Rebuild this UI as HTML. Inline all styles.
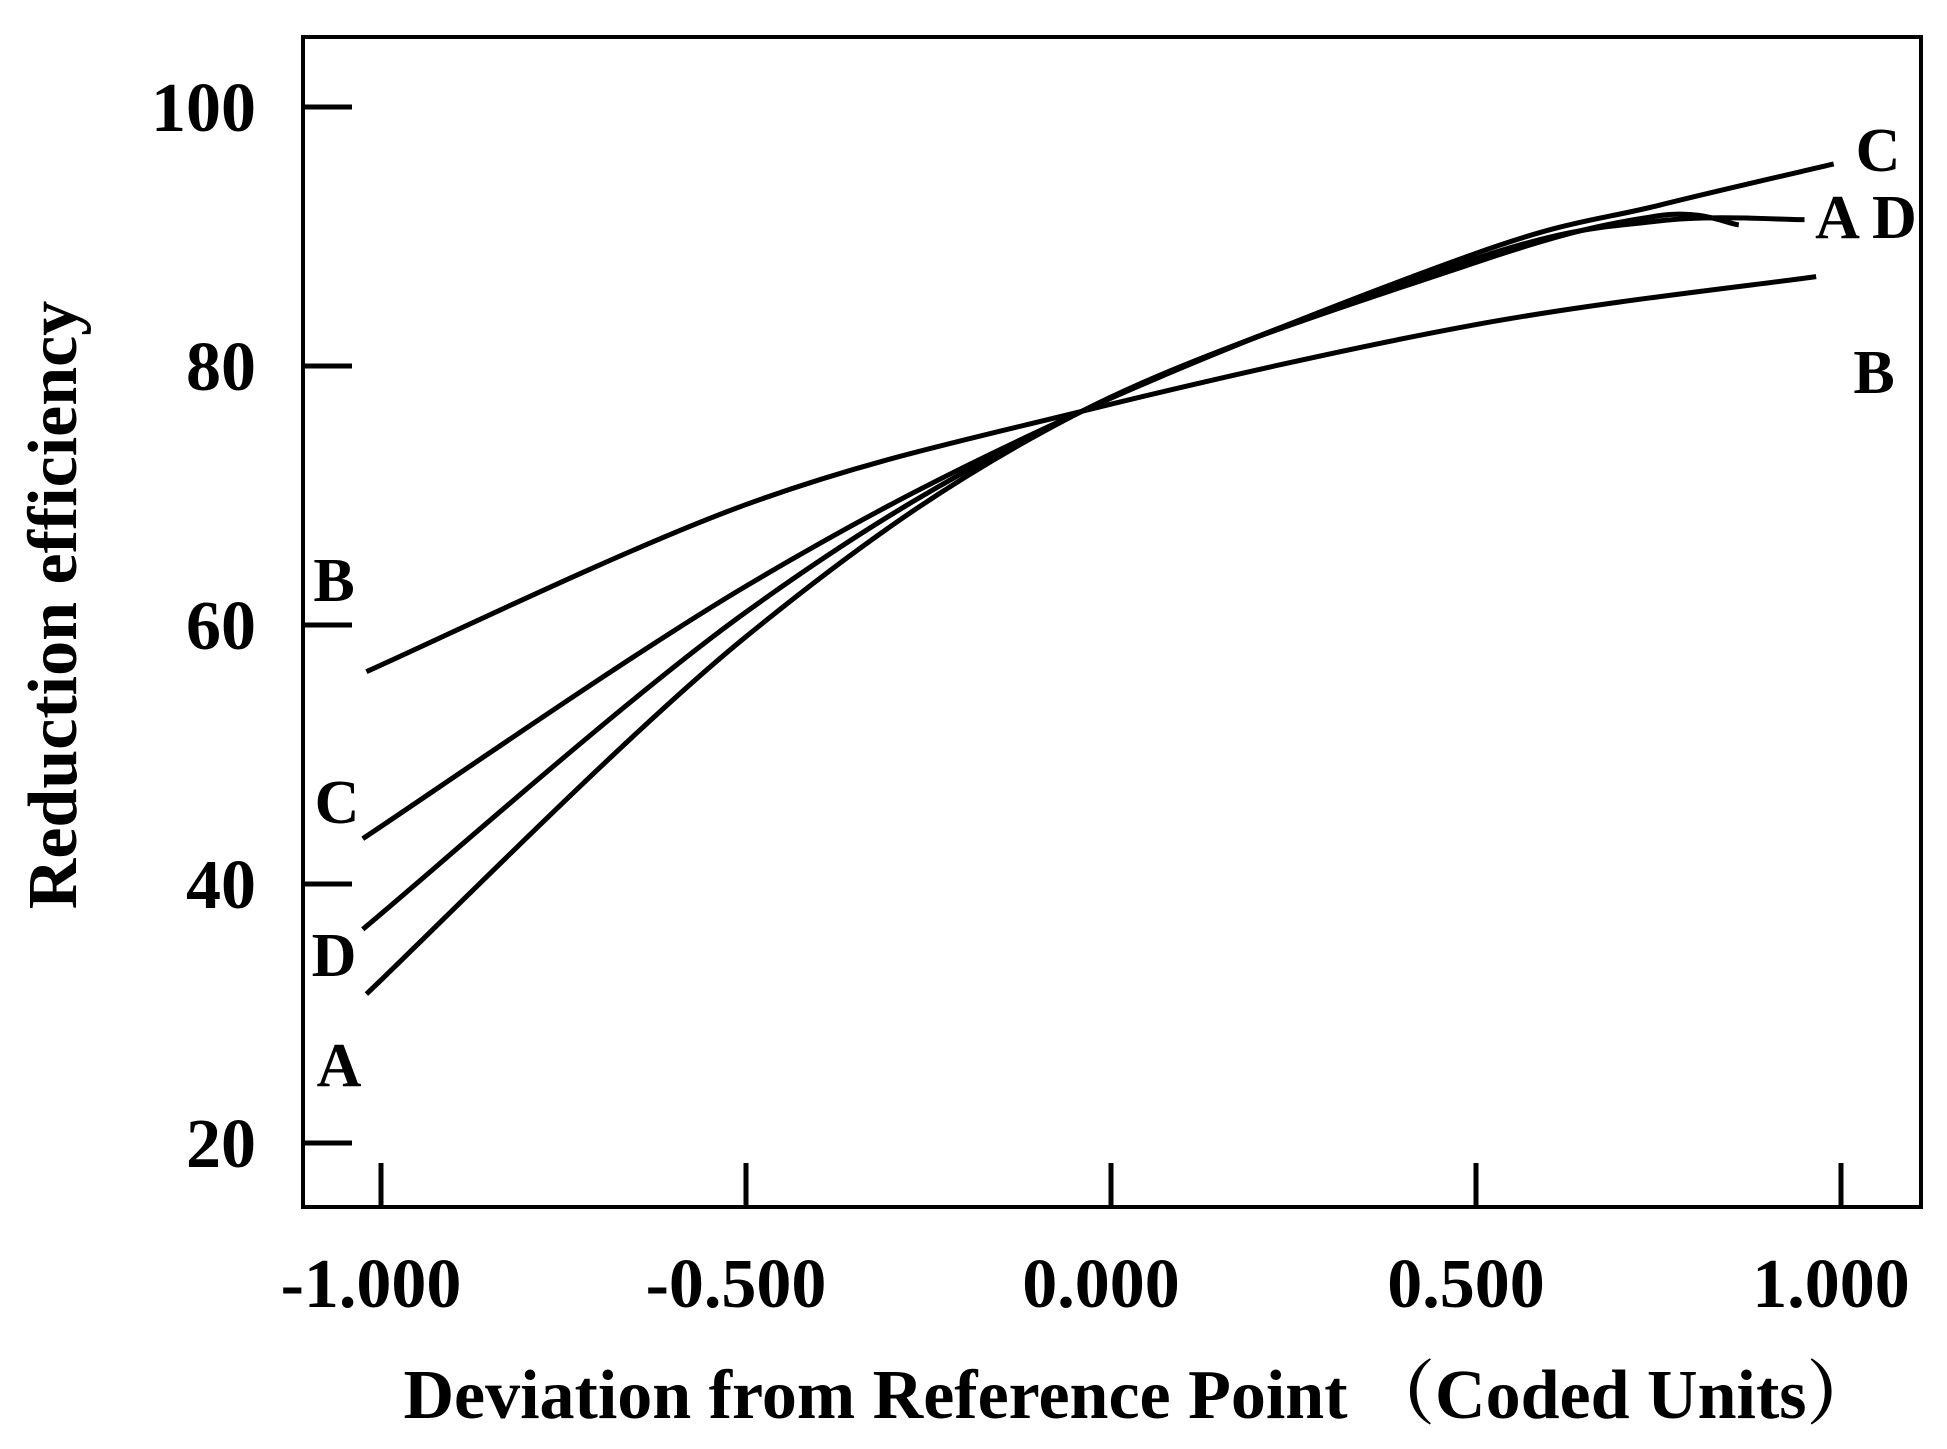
<!DOCTYPE html>
<html><head><meta charset="utf-8"><style>
html,body{margin:0;padding:0;background:#fff;}
svg{display:block;font-family:"Liberation Serif","Noto Serif CJK SC",serif;font-weight:bold;}
</style></head><body>
<svg id="chart" width="1947" height="1449" viewBox="0 0 1947 1449" xmlns="http://www.w3.org/2000/svg">
<rect x="303" y="37" width="1618" height="1170" fill="none" stroke="#000" stroke-width="4"/>
<g id="axes"></g>
<g id="series"></g>
<text transform="translate(76,605) rotate(-90)" text-anchor="middle" font-size="70">Reduction efficiency</text>
<text x="1140" y="1418" text-anchor="middle" font-size="70">Deviation from Reference Point （Coded Units）</text>
<text x="334" y="601" text-anchor="middle" font-size="62">B</text>
<text x="337" y="823" text-anchor="middle" font-size="62">C</text>
<text x="334" y="976" text-anchor="middle" font-size="62">D</text>
<text x="339" y="1086" text-anchor="middle" font-size="62">A</text>
<text x="1878" y="171" text-anchor="middle" font-size="62">C</text>
<text x="1866" y="238" text-anchor="middle" font-size="62">A D</text>
<text x="1874" y="393" text-anchor="middle" font-size="62">B</text>
</svg>
<script>
const yTicks = [20, 40, 60, 80, 100];
const xTicks = [-1, -0.5, 0, 0.5, 1];
const xTickLabels = ["-1.000", "-0.500", "0.000", "0.500", "1.000"];
const seriesNames = ["A", "B", "C", "D"];
const xA = [-1.02, -0.5, -0.04, 0.5, 0.75, 0.86];
const yA = [31.5, 59.1, 76.5, 88.0, 91.6, 90.9];
const xB = [-1.02, -0.5, -0.04, 0.5, 0.966];
const yB = [56.4, 69.3, 76.5, 83.2, 86.9];
const xC = [-1.025, -0.5, -0.04, 0.5, 0.75, 0.99];
const yC = [43.5, 63.0, 76.5, 88.7, 92.4, 95.6];
const xD = [-1.025, -0.5, -0.04, 0.5, 0.75, 0.95];
const yD = [36.5, 61.0, 76.5, 88.3, 91.2, 91.3];

const NS = "http://www.w3.org/2000/svg";
function sx(v){ return 381 + (v + 1) * 730; }
function sy(v){ return 1143 - (v - 20) * 12.95; }
const axes = document.getElementById('axes');
yTicks.forEach(t => {
  const l = document.createElementNS(NS, 'line');
  l.setAttribute('x1', 305); l.setAttribute('x2', 352);
  l.setAttribute('y1', sy(t)); l.setAttribute('y2', sy(t));
  l.setAttribute('stroke', '#000'); l.setAttribute('stroke-width', 5);
  
  
  axes.appendChild(l);
  const tx = document.createElementNS(NS, 'text');
  tx.setAttribute('x', 256); tx.setAttribute('y', sy(t) + 24);
  tx.setAttribute('text-anchor', 'end'); tx.setAttribute('font-size', 70);
  tx.textContent = t;
  
  
  axes.appendChild(tx);
});
xTicks.forEach((t, i) => {
  const l = document.createElementNS(NS, 'line');
  l.setAttribute('x1', sx(t)); l.setAttribute('x2', sx(t));
  l.setAttribute('y1', 1163); l.setAttribute('y2', 1205);
  l.setAttribute('stroke', '#000'); l.setAttribute('stroke-width', 5);
  
  
  axes.appendChild(l);
  const tx = document.createElementNS(NS, 'text');
  tx.setAttribute('x', sx(t) - 10); tx.setAttribute('y', 1307);
  tx.setAttribute('text-anchor', 'middle'); tx.setAttribute('font-size', 70);
  tx.textContent = xTickLabels[i];
  
  
  axes.appendChild(tx);
});
function smoothPath(xs, ys){
  const p = xs.map((x, i) => [sx(x), sy(ys[i])]);
  let d = 'M' + p[0][0] + ',' + p[0][1];
  for (let i = 0; i < p.length - 1; i++){
    const p0 = p[i-1] || p[i], p1 = p[i], p2 = p[i+1], p3 = p[i+2] || p2;
    const c1 = [p1[0] + (p2[0]-p0[0])/6, p1[1] + (p2[1]-p0[1])/6];
    const c2 = [p2[0] - (p3[0]-p1[0])/6, p2[1] - (p3[1]-p1[1])/6];
    d += ' C' + c1 + ' ' + c2 + ' ' + p2;
  }
  return d;
}
const g = document.getElementById('series');
const all = {A:[xA,yA], B:[xB,yB], C:[xC,yC], D:[xD,yD]};
seriesNames.forEach(n => {
  const path = document.createElementNS(NS, 'path');
  path.setAttribute('d', smoothPath(all[n][0], all[n][1]));
  path.setAttribute('fill', 'none'); path.setAttribute('stroke', '#000');
  path.setAttribute('stroke-width', 5);
  
  
  g.appendChild(path);
});
</script>
</body></html>
